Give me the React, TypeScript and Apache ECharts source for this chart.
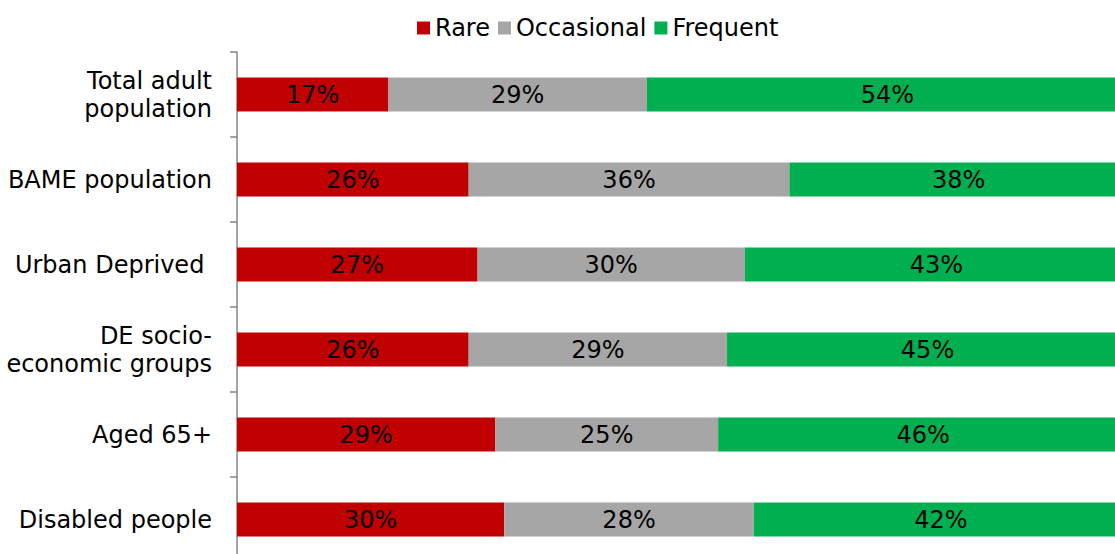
import React, { useEffect, useRef } from "react";
import * as echarts from "echarts";

const categories = [
  "Total adult\npopulation",
  "BAME population",
  "Urban Deprived ",
  "DE socio-\neconomic groups",
  "Aged 65+",
  "Disabled people",
];
const rare = [17, 26, 27, 26, 29, 30];
const occasional = [29, 36, 30, 29, 25, 28];
const frequent = [54, 38, 43, 45, 46, 42];

const FONT = "DejaVu Sans, Verdana, sans-serif";

export default function App() {
  const ref = useRef<HTMLDivElement>(null);

  useEffect(() => {
    if (!ref.current) return;
    const chart = echarts.init(ref.current, undefined, { renderer: "svg" });
    const label = {
      show: true,
      position: "inside" as const,
      color: "#000",
      fontFamily: FONT,
      fontSize: 24,
      formatter: (p: any) => `${p.value}%`,
    };
    const mk = (name: string, data: number[], color: string) => ({
      name,
      type: "bar" as const,
      stack: "total",
      data,
      barCategoryGap: "60%",
      itemStyle: { color },
      label,
    });
    chart.setOption({
      animation: false,
      legend: {
        left: 412,
        top: 11,
        itemWidth: 13,
        itemHeight: 13,
        itemGap: 8,
        icon: "rect",
        textStyle: { fontFamily: FONT, fontSize: 24, color: "#000" },
        data: ["Rare", "Occasional", "Frequent"],
      },
      // the plot runs a little past the right edge of the visible frame
      grid: { left: 237, right: 0, top: 52, bottom: 8, containLabel: false },
      xAxis: { type: "value", min: 0, max: 100, show: false },
      yAxis: {
        type: "category",
        inverse: true,
        data: categories,
        axisLine: { show: true, lineStyle: { color: "#868686", width: 1.5 } },
        axisTick: { show: true, length: 7, lineStyle: { color: "#868686", width: 1.5 } },
        axisLabel: {
          margin: 25,
          color: "#000",
          fontFamily: FONT,
          fontSize: 24,
          lineHeight: 28,
          align: "right",
        },
      },
      series: [
        mk("Rare", rare, "#C00000"),
        mk("Occasional", occasional, "#A6A6A6"),
        mk("Frequent", frequent, "#00B050"),
      ],
    });
    return () => chart.dispose();
  }, []);

  return (
    <div
      style={{
        position: "fixed",
        left: 0,
        top: 0,
        width: 1115,
        height: 554,
        overflow: "hidden",
        background: "#fff",
      }}
    >
      <div ref={ref} style={{ width: 1128, height: 570 }} />
    </div>
  );
}
